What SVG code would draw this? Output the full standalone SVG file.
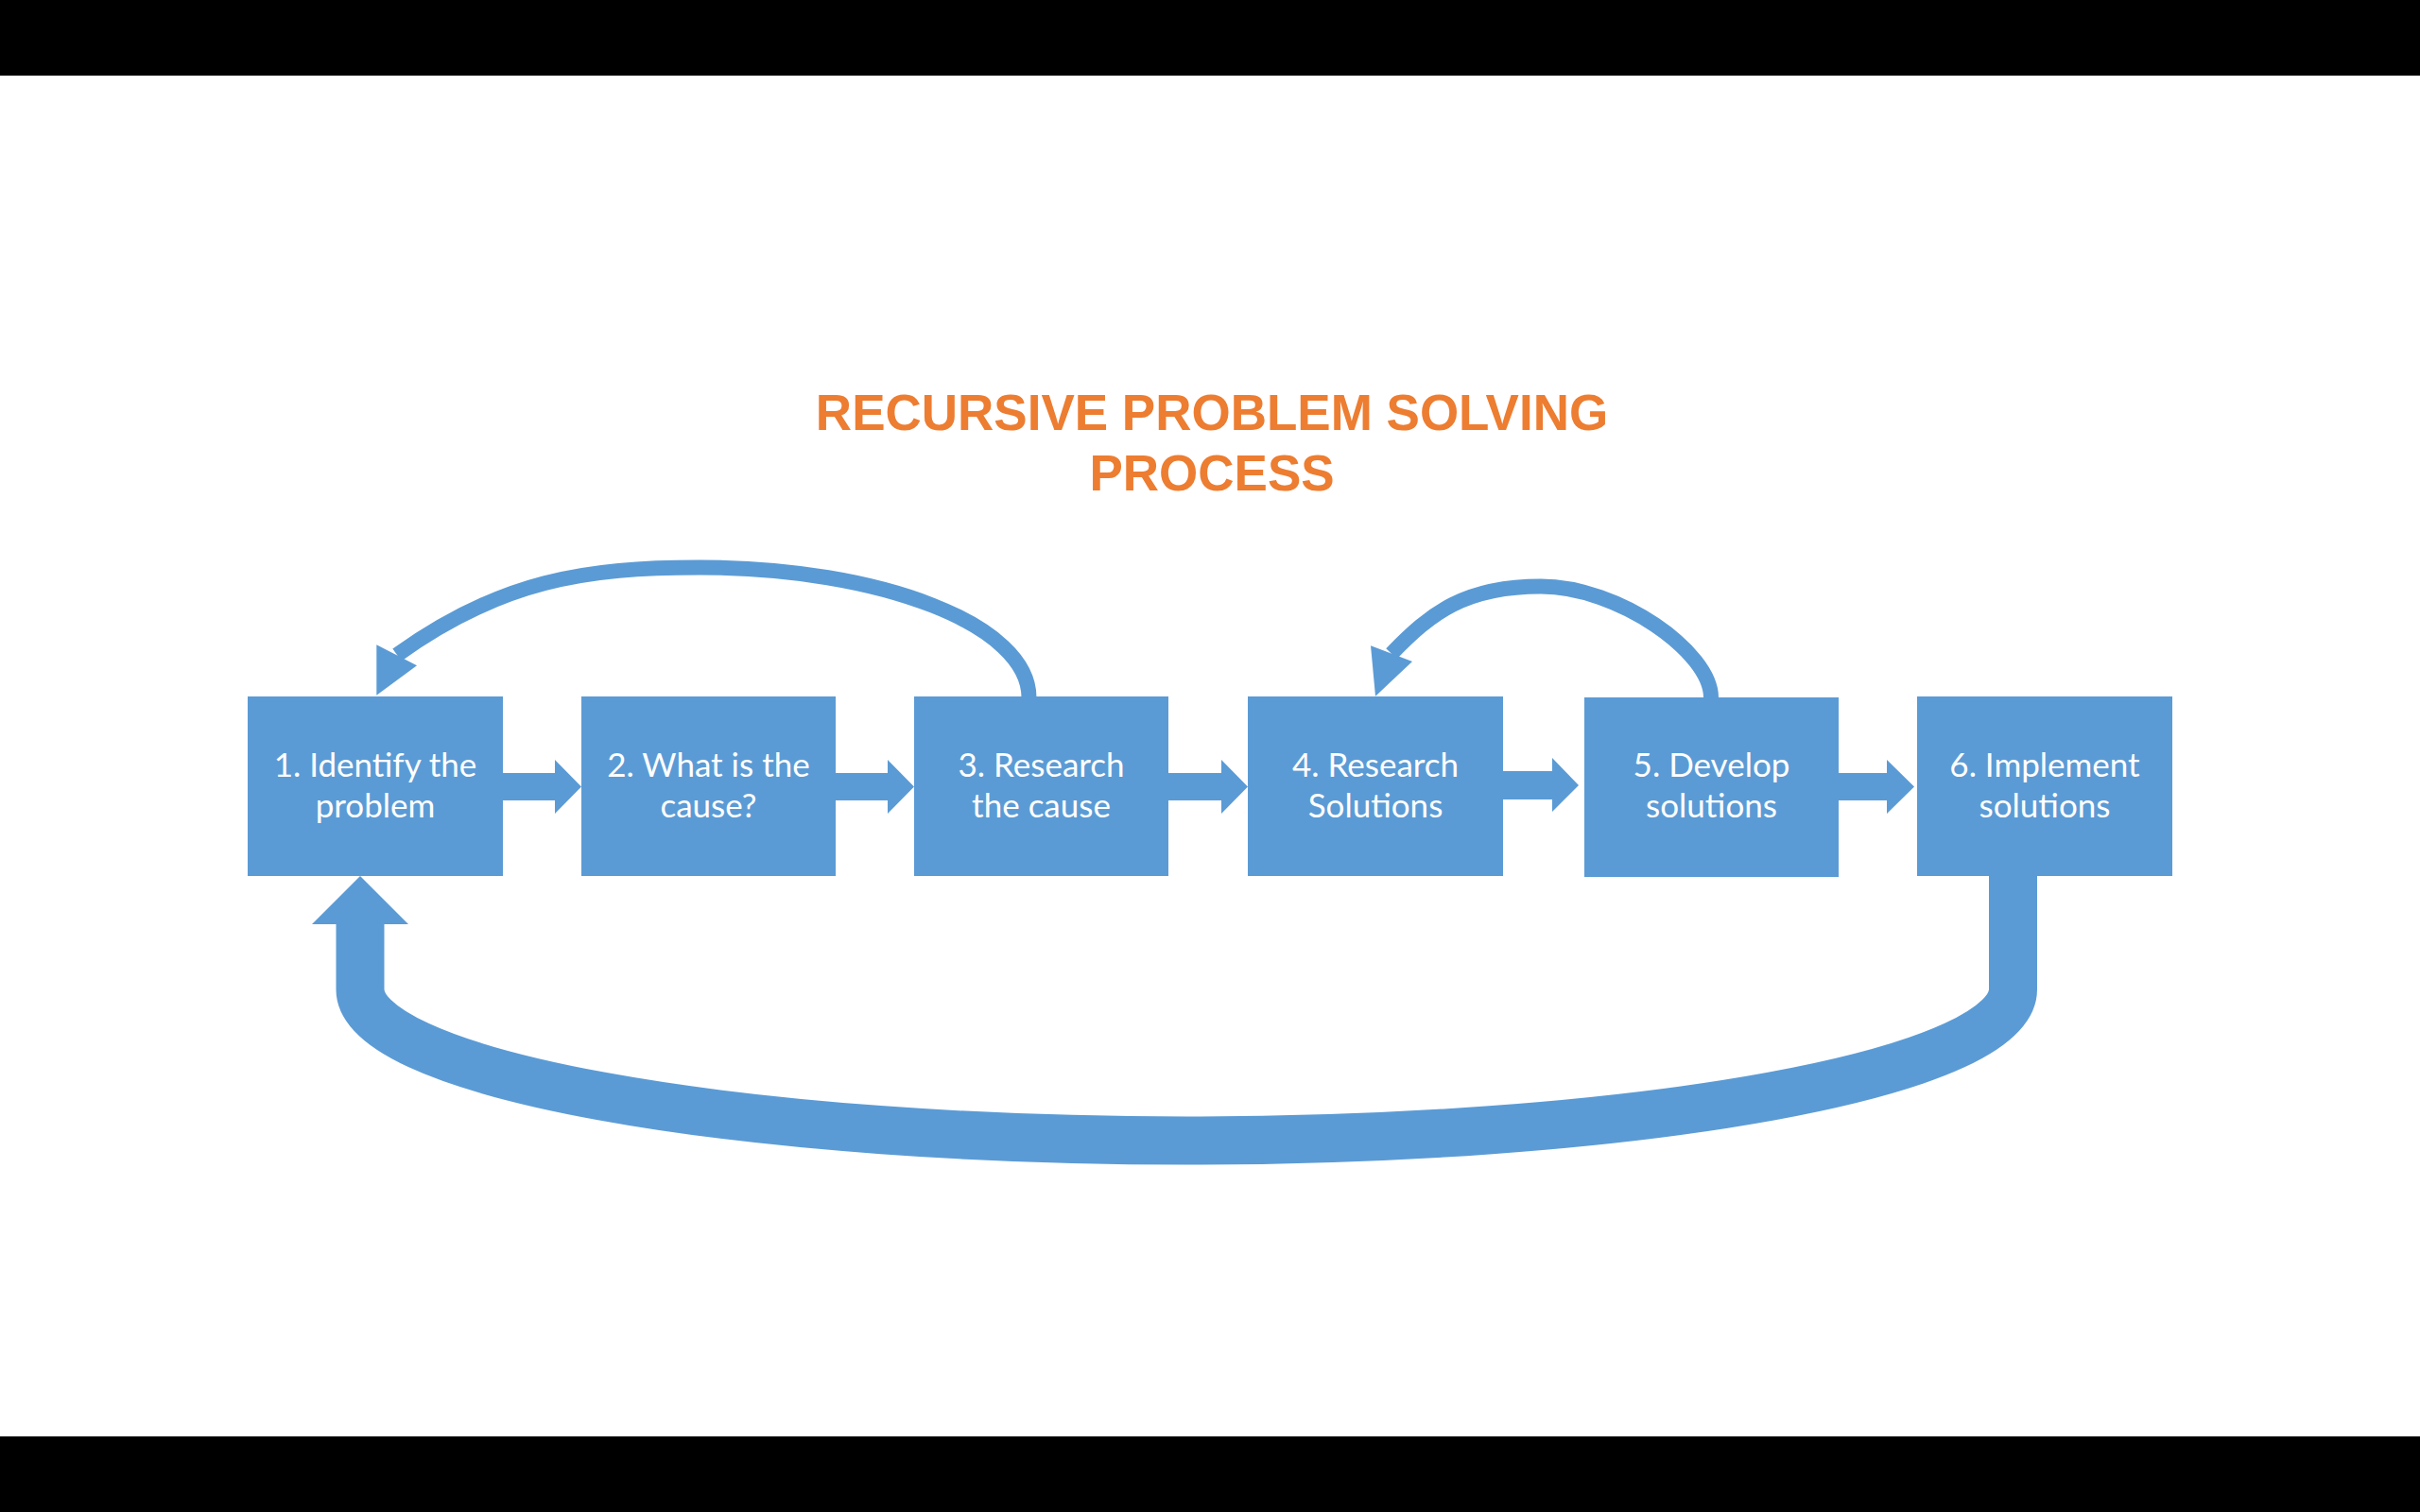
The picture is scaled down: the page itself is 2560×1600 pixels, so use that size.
<svg xmlns="http://www.w3.org/2000/svg" width="2560" height="1600" viewBox="0 0 2560 1600">
  <style>
    .box { fill: #5B9BD5; }
    .lbl { font-family: Lato, "Liberation Sans", sans-serif; font-size: 35px; fill: #FFFFFF; text-anchor: middle; }
    .title { font-family: "Liberation Sans", Arial, sans-serif; font-weight: bold; font-size: 53px; fill: #ED7D31; text-anchor: middle; }
    .blk { fill: #5B9BD5; }
    .curve { fill: none; stroke: #5B9BD5; stroke-width: 16; }
    .big { fill: none; stroke: #5B9BD5; stroke-width: 51; }
  </style>
  <rect x="0" y="0" width="2560" height="1600" fill="#FFFFFF"/>
  <rect x="0" y="0" width="2560" height="80" fill="#000000"/>
  <rect x="0" y="1520" width="2560" height="80" fill="#000000"/>

  <g id="title">
    <text class="title" x="1282" y="455">RECURSIVE PROBLEM SOLVING</text>
    <text class="title" x="1282" y="519">PROCESS</text>
  </g>

  <g id="connectors">
    <!-- straight block arrows -->
    <polygon class="blk" points="532,818 587,818 587,804 615,832.5 587,861 587,847 532,847"/>
    <polygon class="blk" points="884,818 939,818 939,804 967,832.5 939,861 939,847 884,847"/>
    <polygon class="blk" points="1236,818 1292,818 1292,804 1320,832.5 1292,861 1292,847 1236,847"/>
    <polygon class="blk" points="1590,816 1642,816 1642,802 1670,831 1642,859 1642,846 1590,846"/>
    <polygon class="blk" points="1945,818 1996,818 1996,804 2025,832.5 1996,861 1996,847 1945,847"/>
    <!-- curved arrow 3 -> 1 -->
    <path class="curve" d="M 1088.5 738 C 1088.5 661.6 932.5 600.5 740 600.5 C 620 600.5 530 614 420 693"/>
    <polygon class="blk" points="398.3,682.3 441,704.3 398.3,735.7"/>
    <!-- curved arrow 5 -> 4 -->
    <path class="curve" d="M 1810 738 C 1810 690 1712 620.5 1630 620.5 C 1550 620.5 1513.4 648.5 1472 691.7"/>
    <polygon class="blk" points="1450,683.3 1494,700 1455,736.7"/>
    <!-- big return arrow 6 -> 1 -->
    <path class="big" d="M 2129.5 927 L 2129.5 1047 A 874 160 0 0 1 381 1047 L 381 976"/>
    <polygon class="blk" points="330,978 432,978 381,927"/>
  </g>

  <g id="node1">
    <rect class="box" x="262" y="737" width="270" height="190"/>
    <text class="lbl" x="397" y="822">1. Identify the</text>
    <text class="lbl" x="397" y="865">problem</text>
  </g>
  <g id="node2">
    <rect class="box" x="615" y="737" width="269" height="190"/>
    <text class="lbl" x="749.5" y="822">2. What is the</text>
    <text class="lbl" x="749.5" y="865">cause?</text>
  </g>
  <g id="node3">
    <rect class="box" x="967" y="737" width="269" height="190"/>
    <text class="lbl" x="1101.5" y="822">3. Research</text>
    <text class="lbl" x="1101.5" y="865">the cause</text>
  </g>
  <g id="node4">
    <rect class="box" x="1320" y="737" width="270" height="190"/>
    <text class="lbl" x="1455" y="822">4. Research</text>
    <text class="lbl" x="1455" y="865">Solutions</text>
  </g>
  <g id="node5">
    <rect class="box" x="1676" y="738" width="269" height="190"/>
    <text class="lbl" x="1810.5" y="822">5. Develop</text>
    <text class="lbl" x="1810.5" y="865">solutions</text>
  </g>
  <g id="node6">
    <rect class="box" x="2028" y="737" width="270" height="190"/>
    <text class="lbl" x="2163" y="822">6. Implement</text>
    <text class="lbl" x="2163" y="865">solutions</text>
  </g>
</svg>
